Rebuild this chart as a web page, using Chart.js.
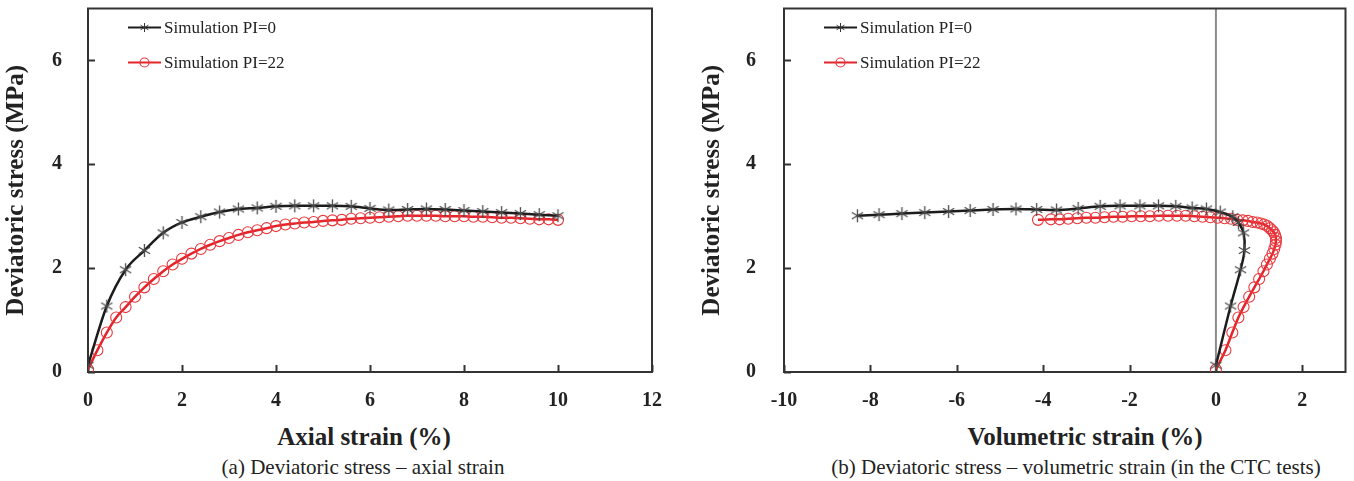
<!DOCTYPE html>
<html>
<head>
<meta charset="utf-8">
<script src="https://cdn.jsdelivr.net/npm/chart.js@4.4.1/dist/chart.umd.min.js"></script>
<style>
  body {
    margin: 0;
    background: #fff;
    width: 1354px;
    height: 481px;
    position: relative;
    overflow: hidden;
    font-family: "Liberation Serif", "Times New Roman", serif;
    color: #222;
  }
  .box { position: absolute; top: 0; width: 664px; height: 420px; }
  .label { position: absolute; transform: translate(-50%, -50%); white-space: nowrap; }
  .axis-title { font-weight: bold; font-size: 25px; }
  .caption { font-size: 21px; }
</style>
</head>
<body>
<div class="box" style="left:0"><canvas id="axial-chart"></canvas></div>
<div class="box" style="left:690px"><canvas id="vol-chart"></canvas></div>

<div class="label axis-title" style="left:364px; top:437px">Axial strain (%)</div>
<div class="label caption" style="left:363px; top:467px">(a) Deviatoric stress – axial strain</div>
<div class="label axis-title" style="left:1085px; top:437px">Volumetric strain (%)</div>
<div class="label caption" style="left:1076px; top:467px">(b) Deviatoric stress – volumetric strain (in the CTC tests)</div>

<script>
const seriesNames = ["Simulation PI=0", "Simulation PI=22"];
const yTicks = [0, 2, 4, 6];
const axialTicks = [0, 2, 4, 6, 8, 10, 12];
const volTicks = [-10, -8, -6, -4, -2, 0, 2];

// PI=0
const axialStrain0 = [0, 0.4, 0.8, 1.2, 1.6, 2.0, 2.4, 2.8, 3.2, 3.6, 4.0, 4.4, 4.8,
  5.2, 5.6, 6.0, 6.4, 6.8, 7.2, 7.6, 8.0, 8.4, 8.8, 9.2, 9.6, 10.0];
const stress0 = [0.13, 1.27, 1.97, 2.34, 2.68, 2.88, 2.99, 3.08, 3.14, 3.16, 3.19, 3.20, 3.20,
  3.20, 3.19, 3.15, 3.12, 3.13, 3.14, 3.13, 3.11, 3.09, 3.07, 3.05, 3.03, 3.01];
const volStrain0 = [0.0, 0.34, 0.57, 0.66, 0.64, 0.52, 0.39, 0.10, -0.22, -0.55, -0.93, -1.33, -1.76,
  -2.22, -2.68, -3.19, -3.69, -4.15, -4.63, -5.16, -5.69, -6.19, -6.74, -7.27, -7.80, -8.30];

// PI=22
const axialStrain22 = [0, 0.2, 0.4, 0.6, 0.8, 1.0, 1.2, 1.4, 1.6, 1.8, 2.0, 2.2, 2.4, 2.6, 2.8,
  3.0, 3.2, 3.4, 3.6, 3.8, 4.0, 4.2, 4.4, 4.6, 4.8, 5.0, 5.2, 5.4, 5.6, 5.8, 6.0, 6.2, 6.4,
  6.6, 6.8, 7.0, 7.2, 7.4, 7.6, 7.8, 8.0, 8.2, 8.4, 8.6, 8.8, 9.0, 9.2, 9.4, 9.6, 9.8, 10.0];
const stress22 = [0.05, 0.42, 0.76, 1.05, 1.25, 1.45, 1.63, 1.79, 1.94, 2.07, 2.18, 2.28, 2.37, 2.45, 2.52,
  2.58, 2.64, 2.69, 2.73, 2.77, 2.81, 2.84, 2.86, 2.88, 2.89, 2.91, 2.92, 2.93, 2.95, 2.96, 2.97, 2.98, 2.99,
  3.00, 3.01, 3.01, 3.01, 3.01, 3.00, 3.00, 3.00, 2.99, 2.99, 2.98, 2.97, 2.97, 2.96, 2.95, 2.94, 2.94, 2.93];
const volStrain22 = [0.00, 0.22, 0.38, 0.52, 0.64, 0.77, 0.89, 1.00, 1.10, 1.18, 1.25, 1.31, 1.35, 1.38, 1.39,
  1.39, 1.37, 1.34, 1.30, 1.25, 1.19, 1.12, 1.04, 0.95, 0.85, 0.74, 0.62, 0.49, 0.35, 0.20, 0.04, -0.13, -0.31,
  -0.50, -0.70, -0.90, -1.11, -1.32, -1.53, -1.74, -1.95, -2.16, -2.37, -2.58, -2.79, -3.00, -3.21, -3.42, -3.62, -3.82, -4.12];

const FONT = "'Liberation Serif', 'Times New Roman', serif";
const BLACK = "#1c1c1c";
const RED = "#e4242b";

// Excel-like "*" marker: vertical bar plus an X
function makeAsterisk(r, color, lw) {
  const size = Math.ceil(r * 2 + 4);
  const c = document.createElement("canvas");
  c.width = size;
  c.height = size;
  const g = c.getContext("2d");
  const m = size / 2;
  g.strokeStyle = color;
  g.lineWidth = lw;
  g.beginPath();
  for (let k = 0; k < 3; k++) {
    const a = Math.PI / 2 + (k * Math.PI) / 3;
    g.moveTo(m + r * Math.cos(a), m - r * Math.sin(a));
    g.lineTo(m - r * Math.cos(a), m + r * Math.sin(a));
  }
  g.stroke();
  return c;
}

const bigStar = makeAsterisk(6.5, "#4a4a4a", 1.3);
const smallStar = makeAsterisk(4.5, "#333", 1);

const pairs = (xs, ys) => xs.map((x, i) => ({ x: x, y: ys[i] }));

// frame, inner tick marks, zero line and legend
const framePlugin = {
  id: "frame",
  beforeDatasetsDraw(chart, args, opts) {
    const { ctx, chartArea: a } = chart;
    const xs = chart.scales.x;
    const ys = chart.scales.y;
    ctx.save();
    if (opts.zeroLine) {
      const zx = xs.getPixelForValue(0);
      ctx.strokeStyle = "#8c8c8c";
      ctx.lineWidth = 2;
      ctx.beginPath();
      ctx.moveTo(zx, a.top);
      ctx.lineTo(zx, a.bottom);
      ctx.stroke();
    }
    ctx.strokeStyle = "#333";
    ctx.lineWidth = 2;
    ctx.strokeRect(a.left, a.top, a.right - a.left, a.bottom - a.top);
    ctx.beginPath();
    opts.xTicks.forEach((v) => {
      const px = Math.round(xs.getPixelForValue(v)) + 0.5;
      ctx.moveTo(px, a.bottom);
      ctx.lineTo(px, a.bottom - 7);
    });
    yTicks.forEach((v) => {
      const py = Math.round(ys.getPixelForValue(v)) + 0.5;
      ctx.moveTo(a.left, py);
      ctx.lineTo(a.left + 7, py);
    });
    ctx.stroke();
    ctx.restore();
  },
  afterDraw(chart) {
    const { ctx, chartArea: a } = chart;
    const rows = [a.top + 19, a.top + 54];
    const x0 = a.left + 40;
    const x1 = a.left + 73;
    ctx.save();
    ctx.font = "17px " + FONT;
    ctx.fillStyle = "#222";
    ctx.textBaseline = "middle";
    chart.data.datasets.forEach((ds, i) => {
      const y = rows[i];
      ctx.strokeStyle = ds.borderColor;
      ctx.lineWidth = 2;
      ctx.beginPath();
      ctx.moveTo(x0, y);
      ctx.lineTo(x1, y);
      ctx.stroke();
      const mx = (x0 + x1) / 2;
      if (i === 0) {
        ctx.drawImage(smallStar, mx - smallStar.width / 2, y - smallStar.height / 2);
      } else {
        ctx.strokeStyle = ds.pointBorderColor;
        ctx.lineWidth = 1.2;
        ctx.beginPath();
        ctx.arc(mx, y, 4.5, 0, Math.PI * 2);
        ctx.stroke();
      }
      ctx.fillText(ds.label, x1 + 3, y + 1);
    });
    ctx.restore();
  },
};

function buildChart(canvasId, xs0, xs22, xMin, xMax, xTicks, yWidth, yTitlePad, yLabelPad, rightPad, zeroLine, smooth) {
  return new Chart(document.getElementById(canvasId), {
    type: "scatter",
    data: {
      datasets: [
        {
          label: seriesNames[0],
          data: pairs(xs0, stress0),
          showLine: true,
          borderColor: BLACK,
          borderWidth: 2.5,
          pointStyle: bigStar,
          pointRadius: 6,
          tension: smooth.tension,
          cubicInterpolationMode: smooth.mode,
        },
        {
          label: seriesNames[1],
          data: pairs(xs22, stress22),
          showLine: true,
          borderColor: RED,
          borderWidth: 2.5,
          pointStyle: "circle",
          pointRadius: 5.5,
          pointBorderWidth: 1.1,
          pointBorderColor: "#e8383d",
          pointBackgroundColor: "rgba(0,0,0,0)",
          tension: smooth.tension,
          cubicInterpolationMode: smooth.mode,
          order: 1,
        },
      ],
    },
    options: {
      responsive: true,
      maintainAspectRatio: false,
      animation: false,
      layout: { padding: { top: 8, right: rightPad, bottom: 0, left: 0 } },
      plugins: {
        legend: { display: false },
        tooltip: { enabled: false },
        frame: { xTicks: xTicks, zeroLine: zeroLine },
      },
      scales: {
        x: {
          type: "linear",
          min: xMin,
          max: xMax,
          grid: { display: false },
          border: { display: false },
          afterBuildTicks: (s) => { s.ticks = xTicks.map((v) => ({ value: v })); },
          afterFit: (s) => { s.height = 48; s.paddingLeft = 0; s.paddingRight = 0; },
          ticks: {
            padding: 9,
            color: "#222",
            font: { family: FONT, size: 20, weight: "bold" },
          },
        },
        y: {
          min: 0,
          max: 7,
          grid: { display: false },
          border: { display: false },
          afterBuildTicks: (s) => { s.ticks = yTicks.map((v) => ({ value: v })); },
          afterFit: (s) => { s.width = yWidth; s.paddingTop = 0; s.paddingBottom = 0; },
          ticks: {
            padding: yLabelPad,
            color: "#222",
            font: { family: FONT, size: 20, weight: "bold" },
          },
          title: {
            display: true,
            text: "Deviatoric stress (MPa)",
            color: "#222",
            font: { family: FONT, size: 25, weight: "bold" },
            padding: { top: yTitlePad, bottom: 0 },
          },
        },
      },
    },
    plugins: [framePlugin],
  });
}

buildChart("axial-chart", axialStrain0, axialStrain22, 0, 12, axialTicks, 88, 2, 18, 12, false,
  { tension: 0.4, mode: "monotone" });
buildChart("vol-chart", volStrain0, volStrain22, -10, 3, volTicks, 94, 8, 20, 7, true,
  { tension: 0.35, mode: "default" });
</script>
</body>
</html>
